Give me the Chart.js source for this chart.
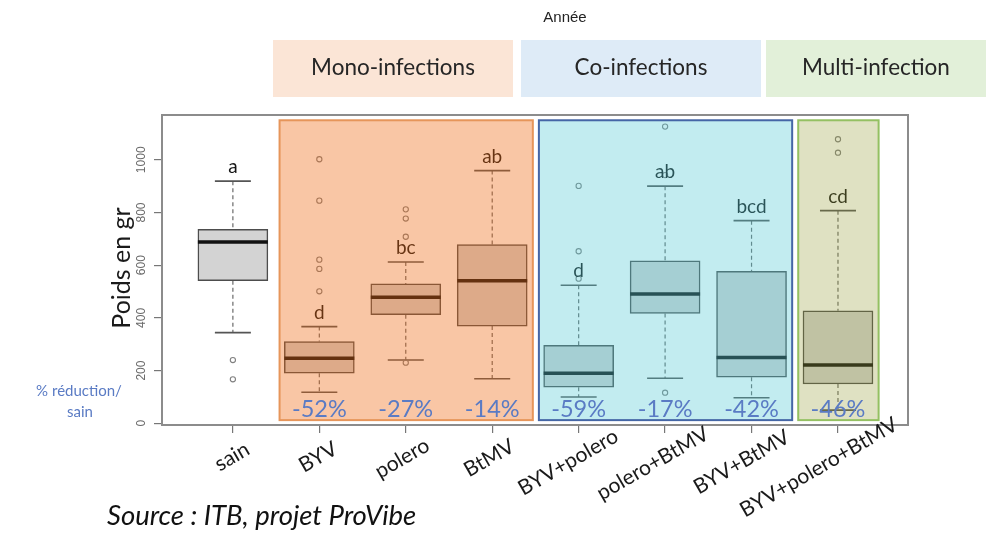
<!DOCTYPE html>
<html lang="fr">
<head>
<meta charset="utf-8">
<title>Poids en gr</title>
<script src="https://cdn.jsdelivr.net/npm/chart.js@4.4.1/dist/chart.umd.min.js"></script>
<style>
  html, body { margin: 0; padding: 0; background: #fff; }
</style>
</head>
<body>
<canvas id="chart" width="986" height="535"></canvas>
<script>
/* ---- data ---- */
const categories   = ['sain', 'BYV', 'polero', 'BtMV', 'BYV+polero', 'polero+BtMV', 'BYV+BtMV', 'BYV+polero+BtMV'];
const lowerWhisker = [344, 118, 240, 169, 100, 171,  97,  50];
const q1           = [541, 190, 412, 369, 137, 417, 175, 149];
const median       = [688, 247, 478, 541, 190, 491, 250, 221];
const q3           = [736, 310, 529, 678, 296, 617, 577, 427];
const upperWhisker = [919, 367, 612, 959, 524, 900, 769, 807];
const outliers     = [[240, 167], [1002, 845, 621, 586, 501], [812, 777, 708, 230], [], [901, 653, 549], [1126, 942, 116], [], [1078, 1027]];
const letters      = ['a', 'd', 'bc', 'ab', 'd', 'ab', 'bcd', 'cd'];
const reductions   = ['', '-52%', '-27%', '-14%', '-59%', '-17%', '-42%', '-46%'];
const yTicks       = [0, 200, 400, 600, 800, 1000];
const groupNames   = ['Mono-infections', 'Co-infections', 'Multi-infection'];
const groupFirst   = [1, 4, 7];
const groupLast    = [3, 6, 7];

/* ---- styles ---- */
const overlayFill   = ['rgba(240,104,16,0.375)', 'rgba(80,200,212,0.35)', 'rgba(150,157,52,0.30)'];
const overlayBorder = ['#e6955a', '#4566a6', '#94c062'];
const headerFill    = ['#fbe5d6', '#deebf7', '#e2f0d9'];
const headerBox     = [[273, 513], [521, 761], [766, 986]];
const BLUE = '#5a7bc4';

function line(ctx, x1, y1, x2, y2) {
  ctx.beginPath(); ctx.moveTo(x1, y1); ctx.lineTo(x2, y2); ctx.stroke();
}

const boxplotDecor = {
  id: 'boxplotDecor',

  // dashed whiskers and caps, under the boxes
  beforeDatasetsDraw(chart) {
    const { ctx, scales: { x, y } } = chart;
    ctx.save();
    categories.forEach((c, i) => {
      const px = x.getPixelForValue(i);
      ctx.strokeStyle = '#6a6a6a'; ctx.lineWidth = 1.2; ctx.setLineDash([4, 3]);
      line(ctx, px, y.getPixelForValue(upperWhisker[i]), px, y.getPixelForValue(q3[i]));
      line(ctx, px, y.getPixelForValue(q1[i]), px, y.getPixelForValue(lowerWhisker[i]));
      ctx.setLineDash([]);
      ctx.strokeStyle = '#555'; ctx.lineWidth = 1.6;
      const half = 18;
      line(ctx, px - half, y.getPixelForValue(upperWhisker[i]), px + half, y.getPixelForValue(upperWhisker[i]));
      line(ctx, px - half, y.getPixelForValue(lowerWhisker[i]), px + half, y.getPixelForValue(lowerWhisker[i]));
    });
    ctx.restore();
  },

  afterDatasetsDraw(chart) {
    const { ctx, chartArea: a, scales: { x, y } } = chart;
    ctx.save();

    // medians
    ctx.strokeStyle = '#111'; ctx.lineWidth = 3.5;
    categories.forEach((c, i) => {
      const px = x.getPixelForValue(i), half = 35;
      const py = y.getPixelForValue(median[i]);
      line(ctx, px - half, py, px + half, py);
    });

    // significance letters
    ctx.fillStyle = '#151515';
    ctx.font = '19px Lato';
    ctx.textAlign = 'center'; ctx.textBaseline = 'middle';
    letters.forEach((t, i) => {
      ctx.fillText(t, x.getPixelForValue(i), y.getPixelForValue(upperWhisker[i]) - 14);
    });

    // translucent group panels
    groupFirst.forEach((g, k) => {
      const l = x.getPixelForValue(g - 0.46), r = x.getPixelForValue(groupLast[k] + 0.47);
      const t = y.getPixelForValue(1150), b = y.getPixelForValue(12);
      ctx.fillStyle = overlayFill[k];
      ctx.fillRect(l, t, r - l, b - t);
      ctx.strokeStyle = overlayBorder[k]; ctx.lineWidth = 2;
      ctx.strokeRect(l, t, r - l, b - t);
    });

    // % reduction
    ctx.fillStyle = BLUE;
    ctx.font = '23.5px Lato';
    reductions.forEach((t, i) => {
      if (t) ctx.fillText(t, x.getPixelForValue(i), 409);
    });

    // plot frame
    ctx.strokeStyle = '#8c8c8c'; ctx.lineWidth = 2;
    ctx.strokeRect(a.left, a.top, a.right - a.left, a.bottom - a.top);
    ctx.restore();
  },

  afterDraw(chart) {
    const { ctx, scales: { x, y } } = chart;
    ctx.save();
    ctx.textAlign = 'center'; ctx.textBaseline = 'middle';

    // title + header boxes
    ctx.fillStyle = '#222';
    ctx.font = '15px "Liberation Sans"';
    ctx.fillText('Année', 565, 18);
    ctx.font = '22.5px Lato';
    groupNames.forEach((n, k) => {
      const [l, r] = headerBox[k];
      ctx.fillStyle = headerFill[k];
      ctx.fillRect(l, 40, r - l, 57);
      ctx.fillStyle = '#262626';
      ctx.fillText(n, (l + r) / 2, 68);
    });

    // y tick labels, R style (vertical)
    ctx.fillStyle = '#6a6a6a';
    ctx.font = '12px "Liberation Sans"';
    yTicks.forEach(v => {
      ctx.save();
      ctx.translate(142, y.getPixelForValue(v));
      ctx.rotate(-Math.PI / 2);
      ctx.fillText(String(v), 0, 0);
      ctx.restore();
    });

    // y title
    ctx.save();
    ctx.fillStyle = '#1a1a1a';
    ctx.font = '25px Lato';
    ctx.translate(122, 268);
    ctx.rotate(-Math.PI / 2);
    ctx.fillText('Poids en gr', 0, 0);
    ctx.restore();

    // rotated category labels
    ctx.fillStyle = '#1a1a1a';
    ctx.font = '21px Lato';
    ctx.textAlign = 'left';
    categories.forEach((c, i) => {
      const w = ctx.measureText(c).width;
      ctx.save();
      ctx.translate(x.getPixelForValue(i) + 4, 454);
      ctx.rotate(-30 * Math.PI / 180);
      ctx.fillText(c, -0.65 * w, 0);
      ctx.restore();
    });

    // side note
    ctx.textAlign = 'center';
    ctx.fillStyle = BLUE;
    ctx.font = '15px Lato';
    ctx.fillText('% réduction/', 79, 391);
    ctx.fillText('sain', 80, 412);

    // source
    ctx.textAlign = 'left'; ctx.textBaseline = 'alphabetic';
    ctx.fillStyle = '#111';
    ctx.font = 'italic 27.5px Lato';
    ctx.fillText('Source : ITB, projet ProVibe', 107, 525);
    ctx.restore();
  }
};

new Chart(document.getElementById('chart'), {
  data: {
    datasets: [
      {
        type: 'bar',
        data: categories.map((c, i) => ({ x: i, y: [q1[i], q3[i]] })),
        backgroundColor: '#d3d3d3',
        borderColor: '#4d4d4d',
        borderWidth: 1.5,
        borderSkipped: false,
        barThickness: 70,
        order: 2
      },
      {
        type: 'scatter',
        data: outliers.flatMap((vals, i) => vals.map(v => ({ x: i, y: v }))),
        pointRadius: 2.6,
        pointBackgroundColor: 'rgba(0,0,0,0)',
        pointBorderColor: '#808080',
        pointBorderWidth: 1.1,
        order: 1
      }
    ]
  },
  options: {
    responsive: false,
    animation: false,
    layout: { padding: { top: 115, left: 122, right: 78, bottom: 100 } },
    plugins: { legend: { display: false }, tooltip: { enabled: false } },
    scales: {
      x: {
        type: 'linear',
        offset: false,
        min: -0.82,
        max: 7.81,
        afterBuildTicks: s => { s.ticks = categories.map((c, i) => ({ value: i })); },
        afterFit: s => { s.height = 10; },
        ticks: { display: false },
        grid: { offset: false, drawOnChartArea: false, tickLength: 8, color: '#777', lineWidth: 1.2 },
        border: { display: false }
      },
      y: {
        min: -6.5,
        max: 1170,
        afterBuildTicks: s => { s.ticks = yTicks.map(v => ({ value: v })); },
        afterFit: s => { s.width = 40; },
        ticks: { display: false },
        grid: { drawOnChartArea: false, tickLength: 8, color: '#777', lineWidth: 1.2 },
        border: { display: false }
      }
    }
  },
  plugins: [boxplotDecor]
});
</script>
</body>
</html>
